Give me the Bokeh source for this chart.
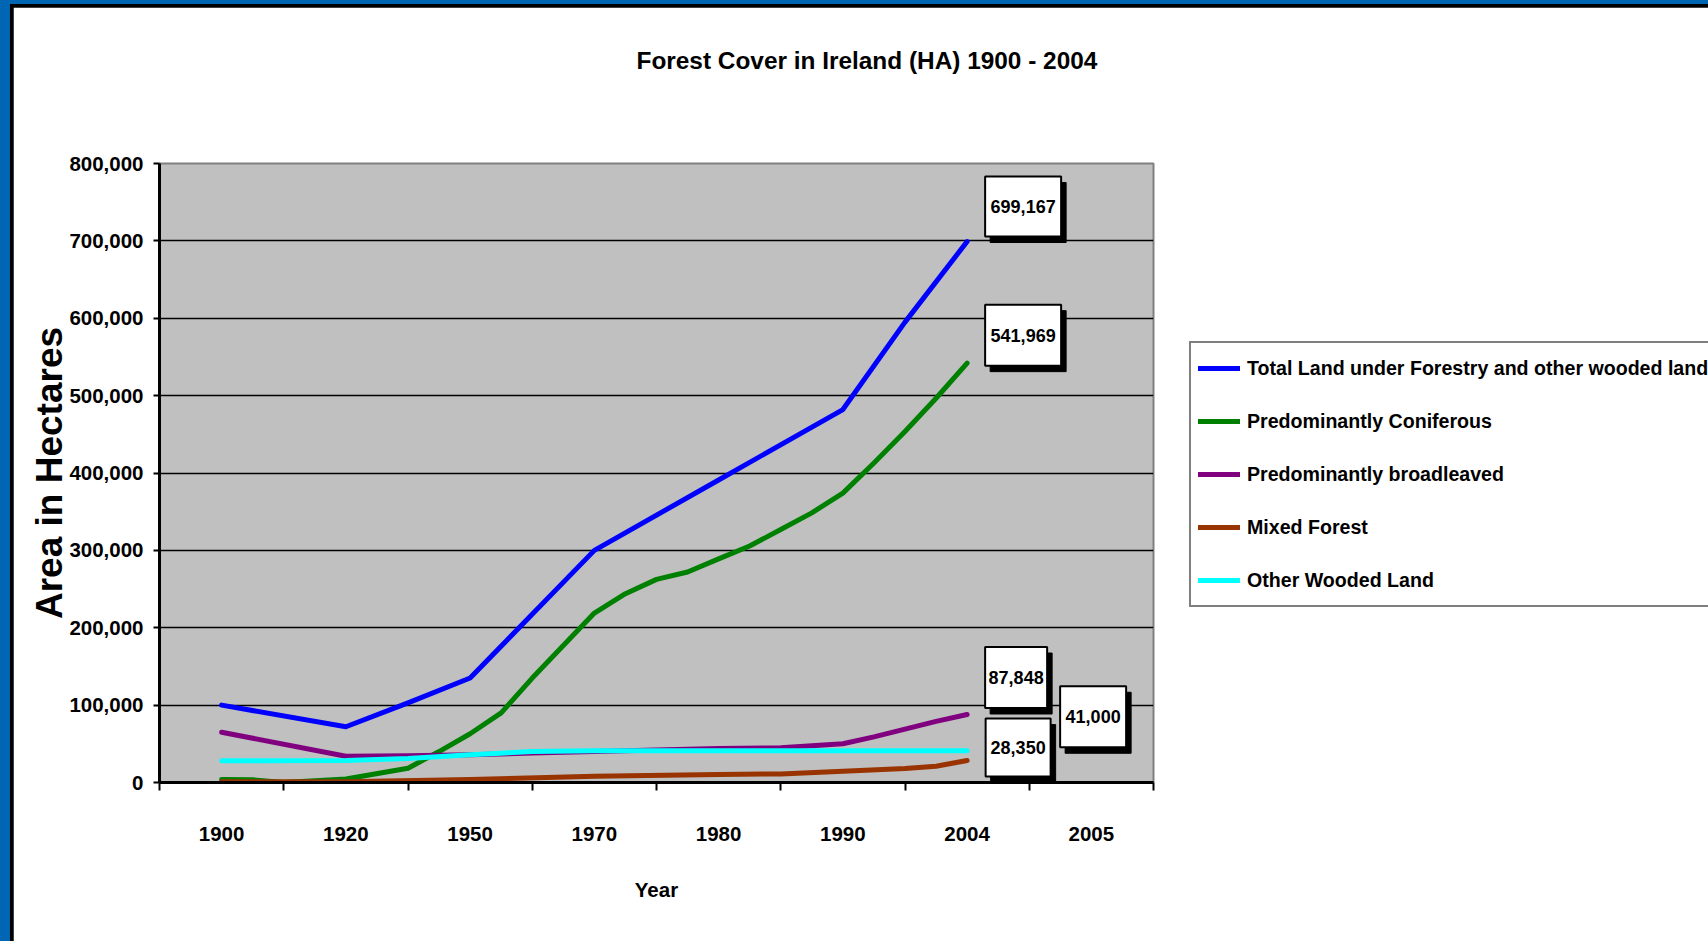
from bokeh.plotting import figure
from bokeh.models import Range1d, FixedTicker, NumeralTickFormatter, Legend, LegendItem, Title
from bokeh.embed import file_html
from bokeh.resources import INLINE

# ---------------- data ----------------
categories = ["1900", "1920", "1950", "1970", "1980", "1990", "2004", "2005"]

# positions are measured in category slots (0 = "1900", 1 = "1920", ...)
total_pos = [0, 1, 1.5, 2, 3, 4, 5, 5.5, 6]
total_val = [100000, 72000, 103000, 135000, 300000, 391000, 482000, 595000, 699167]

conif_pos = [0, 0.25, 0.5, 1, 1.5, 1.75, 2, 2.25, 2.5, 3, 3.25, 3.5, 3.75, 4,
             4.25, 4.5, 4.75, 5, 5.25, 5.5, 5.75, 6]
conif_val = [4000, 3500, 0, 4500, 18500, 40000, 63000, 90000, 135000, 219000, 244000,
             262500, 272000, 289000, 305600, 327000, 348500, 374000, 413000, 453600,
             496600, 541969]

broad_pos = [0, 1, 1.5, 2, 2.5, 3, 3.5, 4, 4.5, 5, 5.25, 5.5, 5.75, 6]
broad_val = [65000, 34000, 34500, 36000, 38000, 40000, 42000, 44000, 45000, 50000,
             59000, 69000, 79000, 87848]

mixed_pos = [0, 1, 2, 3, 4, 4.5, 5, 5.5, 5.75, 6]
mixed_val = [1000, 1000, 4000, 8000, 10500, 11000, 14500, 18000, 21000, 28350]

other_pos = [0, 1, 1.5, 2, 2.5, 3, 6]
other_val = [28000, 28500, 31000, 36000, 40000, 41000, 41000]

series_names = ["Total Land under Forestry and other wooded land",
                "Predominantly Coniferous",
                "Predominantly broadleaved",
                "Mixed Forest",
                "Other Wooded Land"]
series_colors = ["#0000ff", "#008000", "#800080", "#993300", "#00ffff"]
y_ticks = [0, 100000, 200000, 300000, 400000, 500000, 600000, 700000, 800000]
chart_title = "Forest Cover in Ireland (HA) 1900 - 2004"

# ---------------- layout ----------------
FRAME_W, FRAME_H = 994, 619
X0, X1 = -0.5, len(categories) - 0.5
Y0, Y1 = 0, 800000
FONT = "Liberation Sans"

p = figure(frame_width=FRAME_W, frame_height=FRAME_H,
           min_border_left=146, min_border_top=156, min_border_right=554, min_border_bottom=159,
           x_range=Range1d(X0, X1), y_range=Range1d(Y0, Y1),
           output_backend="svg", toolbar_location=None, title=None,
           styles={"border-left": "10px solid #0066b3", "border-top": "4px solid #0066b3",
                   "padding-left": "3px", "padding-top": "3px",
                   "background-color": "black"})

p.background_fill_color = "#c0c0c0"
p.border_fill_color = "white"
p.outline_line_color = "#808080"
p.outline_line_width = 2

# spacer between frame and title, then the title itself
p.add_layout(Title(text=" ", text_font_size="2px", standoff=86), "above")
p.add_layout(Title(text=chart_title, align="left", offset=477, standoff=0,
                   text_font=FONT, text_font_size="24.4px", text_font_style="bold",
                   text_color="black"), "above")

# x axis: labels at slot centres, tick marks at slot boundaries
xa = p.xaxis[0]
xa.ticker = FixedTicker(ticks=list(range(len(categories))),
                        minor_ticks=[i - 0.5 for i in range(len(categories) + 1)])
xa.major_label_overrides = {i: c for i, c in enumerate(categories)}
xa.major_tick_out = 0
xa.major_tick_in = 0
xa.minor_tick_out = 8
xa.minor_tick_in = 0
xa.minor_tick_line_color = "black"
xa.minor_tick_line_width = 2
xa.axis_line_color = "black"
xa.axis_line_width = 3
xa.major_label_standoff = 36
xa.major_label_text_font = FONT
xa.major_label_text_font_size = "20.5px"
xa.major_label_text_font_style = "bold"
xa.major_label_text_color = "black"
xa.axis_label = "Year"
xa.axis_label_text_font = FONT
xa.axis_label_text_font_size = "20.5px"
xa.axis_label_text_font_style = "bold"
xa.axis_label_text_color = "black"
xa.axis_label_standoff = 34

ya = p.yaxis[0]
ya.ticker = FixedTicker(ticks=y_ticks)
ya.formatter = NumeralTickFormatter(format="0,0")
ya.major_tick_out = 6
ya.major_tick_in = 0
ya.minor_tick_out = 0
ya.minor_tick_in = 0
ya.major_tick_line_width = 2
ya.major_tick_line_color = "black"
ya.axis_line_color = "black"
ya.axis_line_width = 3
ya.major_label_standoff = 10
ya.major_label_text_font = FONT
ya.major_label_text_font_size = "20.5px"
ya.major_label_text_font_style = "bold"
ya.major_label_text_color = "black"
ya.axis_label = "Area in Hectares"
ya.axis_label_text_font = FONT
ya.axis_label_text_font_size = "37px"
ya.axis_label_text_font_style = "bold"
ya.axis_label_text_color = "black"
ya.axis_label_standoff = -4

p.xgrid.visible = False
p.ygrid.ticker = FixedTicker(ticks=y_ticks)
p.ygrid.grid_line_color = "black"
p.ygrid.grid_line_width = 1.5
p.ygrid.grid_line_alpha = 1

# ---------------- lines ----------------
all_pos = [total_pos, conif_pos, broad_pos, mixed_pos, other_pos]
all_val = [total_val, conif_val, broad_val, mixed_val, other_val]
renderers = []
for pos, val, col in zip(all_pos, all_val, series_colors):
    r = p.line(pos, val, line_color=col, line_width=5, line_cap="round", line_join="round")
    renderers.append(r)

# ---------------- end-value callouts ----------------
xpp = (X1 - X0) / FRAME_W
ypp = (Y1 - Y0) / FRAME_H
# (dx px, dy px up, box width px, box height px) relative to the last point
callout_style = [(56, 35, 76, 60), (56, 28, 76, 61), (49, 37, 62, 61), (51, 13, 65, 58), (126, 34, 66, 61)]
cx, cy, sx, sy, bw, bh, txt = [], [], [], [], [], [], []
for pos, val, (dx, dy, w, h) in zip(all_pos, all_val, callout_style):
    cx.append(pos[-1] + dx * xpp)
    cy.append(val[-1] + dy * ypp)
    sx.append(pos[-1] + (dx + 5) * xpp)
    sy.append(val[-1] + (dy - 6) * ypp)
    bw.append(w)
    bh.append(h)
    txt.append(f"{val[-1]:,}")

p.rect(sx, sy, width=bw, height=bh, width_units="screen", height_units="screen",
       fill_color="black", line_color="black")
p.rect(cx, cy, width=bw, height=bh, width_units="screen", height_units="screen",
       fill_color="white", line_color="black", line_width=2)
p.text(cx, cy, text=txt, text_align="center", text_baseline="middle",
       text_font={"value": FONT}, text_font_size="18px", text_font_style="bold",
       text_color="black")

# ---------------- legend ----------------
legend = Legend(items=[LegendItem(label=n, renderers=[r]) for n, r in zip(series_names, renderers)],
                location=(36, 175))
legend.border_line_color = "black"
legend.border_line_width = 2
legend.background_fill_color = "white"
legend.background_fill_alpha = 1
legend.label_text_font = FONT
legend.label_text_font_size = "19.6px"
legend.label_text_font_style = "bold"
legend.label_text_color = "black"
legend.glyph_width = 42
legend.glyph_height = 36
legend.label_height = 36
legend.label_standoff = 7
legend.spacing = 17
legend.padding = 7
legend.margin = 0
p.add_layout(legend, "right")

open("out.html", "w").write(file_html(p, INLINE))
